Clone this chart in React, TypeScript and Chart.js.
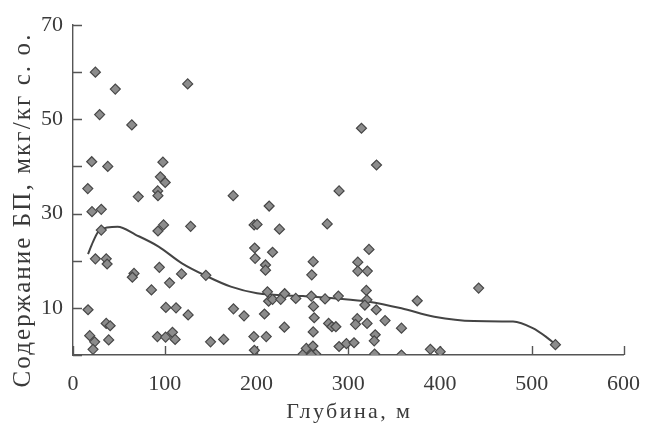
import React, { useEffect, useRef } from 'react';
import { Chart, registerables } from 'chart.js';

Chart.register(...registerables);

// Глубина, м (x) and Содержание БП (y) for each sample
const depth = [
  24.4, 46.1, 125.0, 29.0, 64.1, 20.4, 37.9, 98.0, 95.2, 100.5,
  16.1, 92.3, 92.6, 71.1, 174.6, 20.7, 30.8, 30.8, 92.6, 98.7,
  128.2, 197.4, 213.8, 200.6, 225.0, 277.1, 290.0, 314.4, 330.8, 24.4,
  36.2, 37.2, 198.0, 198.5, 217.5, 209.8, 209.8, 94.1, 66.5, 64.7,
  118.3, 144.8, 105.2, 85.5, 261.8, 260.2, 322.6, 310.4, 310.4, 320.8,
  442.1, 375.2, 16.4, 101.2, 112.3, 125.5, 174.9, 186.4, 208.7, 36.2,
  40.5, 18.2, 23.6, 21.8, 38.9, 92.0, 100.9, 108.4, 111.3, 149.9,
  164.2, 197.1, 197.7, 210.6, 230.4, 211.9, 213.2, 217.5, 226.4, 230.7,
  242.8, 259.7, 262.1, 274.7, 289.2, 319.7, 320.3, 318.1, 330.5, 262.9,
  261.8, 278.6, 282.2, 286.5, 309.8, 307.9, 320.5, 340.1, 358.0, 329.4,
  328.3, 328.7, 358.0, 290.0, 298.0, 306.3, 250.8, 254.3, 261.5, 264.5,
  259.7, 389.5, 400.2, 525.8,
];
const content = [
  60.0, 56.4, 57.5, 51.0, 48.8, 41.0, 40.0, 40.9, 37.8, 36.6,
  35.3, 34.8, 33.8, 33.6, 33.8, 30.4, 30.9, 26.5, 26.3, 27.6,
  27.3, 27.6, 31.6, 27.7, 26.7, 27.8, 34.8, 48.1, 40.3, 20.4,
  20.4, 19.3, 22.7, 20.5, 21.8, 19.1, 18.0, 18.6, 17.3, 16.5,
  17.2, 16.9, 15.3, 13.8, 19.8, 17.0, 22.4, 19.7, 17.8, 17.8,
  14.2, 11.5, 9.6, 10.1, 10.0, 8.5, 9.8, 8.3, 8.7, 6.7,
  6.2, 4.1, 2.8, 1.2, 3.2, 3.9, 3.8, 4.8, 3.3, 2.8,
  3.3, 3.9, 1.0, 3.9, 5.9, 13.4, 11.4, 11.8, 11.8, 13.0,
  12.0, 12.5, 10.3, 11.9, 12.5, 13.7, 11.7, 10.6, 9.6, 7.9,
  4.9, 6.7, 6.0, 6.0, 7.7, 6.5, 6.7, 7.3, 5.7, 4.3,
  3.0, 0.2, 0.0, 1.8, 2.4, 2.6, 0.2, 1.4, 1.9, 0.2,
  0.0, 1.2, 0.7, 2.2,
];

// Smoothed trend curve
const curveDepth = [
  16.4, 21.8, 29.0, 48.6, 68.3, 93.3, 118.3, 144.8, 172.0, 200.6,
  250.7, 286.5, 322.2, 358.0, 393.8, 436.7, 479.6, 501.1, 515.3, 525.4,
];
const curveContent = [
  21.4, 24.0, 26.5, 27.2, 25.5, 23.0, 19.5, 16.8, 14.5, 13.1,
  12.5, 12.0, 11.3, 9.9, 8.1, 7.2, 7.1, 5.7, 3.9, 2.3,
];

const xTicks = [0, 100, 200, 300, 400, 500, 600];
const yTicks = [0, 10, 20, 30, 40, 50, 60, 70];
const yLabeled = [10, 30, 50, 70];

const xTitle = 'Глубина, м';
const yTitle = 'Содержание БП, мкг/кг с. о.';

const INK = '#3a3a3a';
const FONT = '"Liberation Serif", "DejaVu Serif", serif';

const tickPlugin = {
  id: 'inwardTicks',
  beforeDatasetsDraw(chart: any) {
    const { ctx, chartArea, scales } = chart;
    const x = scales.x;
    const y = scales.y;
    ctx.save();
    ctx.strokeStyle = '#555';
    ctx.lineWidth = 1.4;
    ctx.beginPath();
    for (const v of yTicks) {
      const py = Math.round(y.getPixelForValue(v)) + 0.5;
      ctx.moveTo(chartArea.left, py);
      ctx.lineTo(chartArea.left + 9, py);
    }
    for (const v of xTicks) {
      const px = Math.round(x.getPixelForValue(v)) + 0.5;
      ctx.moveTo(px, chartArea.bottom);
      ctx.lineTo(px, chartArea.bottom - 9);
    }
    ctx.stroke();
    ctx.restore();
  },
  afterDraw(chart: any) {
    const { ctx, chartArea } = chart;
    ctx.save();
    ctx.fillStyle = INK;
    ctx.textAlign = 'center';
    ctx.textBaseline = 'alphabetic';
    // x-axis title
    ctx.font = `22px ${FONT}`;
    (ctx as any).letterSpacing = '2.4px';
    ctx.fillText(xTitle, (chartArea.left + chartArea.right) / 2 + 1, 418);
    // y-axis title
    ctx.font = `25px ${FONT}`;
    (ctx as any).letterSpacing = '2.1px';
    ctx.translate(30, 210);
    ctx.rotate(-Math.PI / 2);
    ctx.fillText(yTitle, 0, 0);
    ctx.restore();
  },
};

export default function App() {
  const ref = useRef<HTMLCanvasElement | null>(null);

  useEffect(() => {
    if (!ref.current) return;
    const scatterData = depth.map((d, i) => ({ x: d, y: content[i] }));
    const curveData = curveDepth.map((d, i) => ({ x: d, y: curveContent[i] }));
    const chart = new Chart(ref.current, {
      type: 'scatter',
      data: {
        datasets: [
          {
            type: 'scatter',
            data: scatterData,
            pointStyle: 'rectRot',
            pointRadius: 5,
            backgroundColor: '#8c8c8c',
            borderColor: '#474747',
            borderWidth: 1.2,
            order: 1,
          },
          {
            type: 'line',
            data: curveData,
            borderColor: '#444',
            borderWidth: 2,
            pointRadius: 0,
            fill: false,
            tension: 0.4,
            cubicInterpolationMode: 'monotone',
            order: 2,
          } as any,
        ],
      },
      options: {
        responsive: false,
        animation: false,
        events: [],
        layout: { padding: { top: 25, right: 24, left: 0, bottom: 0 } },
        plugins: { legend: { display: false }, tooltip: { enabled: false } },
        scales: {
          x: {
            type: 'linear',
            min: 0,
            max: 600,
            afterFit: (s: any) => { s.height = 69; },
            afterBuildTicks: (s: any) => { s.ticks = xTicks.map((v) => ({ value: v })); },
            grid: { display: false, drawTicks: false },
            border: { display: true, color: '#555', width: 1.4 },
            ticks: {
              padding: 16,
              color: INK,
              font: { family: FONT, size: 22 },
              maxRotation: 0,
              callback: (v: any) => String(v),
            },
            title: { display: false, text: xTitle },
          },
          y: {
            type: 'linear',
            min: 0,
            max: 70,
            afterFit: (s: any) => { s.width = 73; },
            afterBuildTicks: (s: any) => { s.ticks = yTicks.map((v) => ({ value: v })); },
            grid: { display: false, drawTicks: false },
            border: { display: true, color: '#555', width: 1.4 },
            ticks: {
              padding: 10,
              color: INK,
              font: { family: FONT, size: 22 },
              callback: (v: any) => (yLabeled.includes(Number(v)) ? String(v) : ''),
            },
            title: { display: false, text: yTitle },
          },
        },
      },
      plugins: [tickPlugin],
    });
    return () => chart.destroy();
  }, []);

  return (
    <div style={{ position: 'absolute', left: 0, top: 0, width: 656, height: 424, background: '#fff' }}>
      <canvas ref={ref} width={656} height={424} />
    </div>
  );
}
